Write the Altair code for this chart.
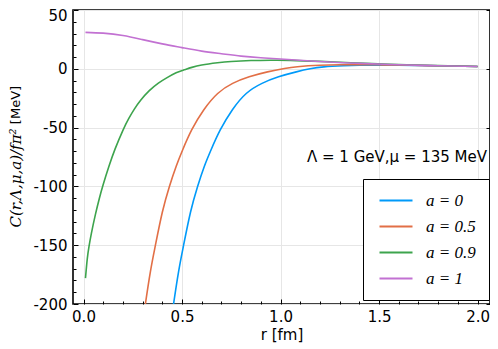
import altair as alt
import pandas as pd

# ---------------- data ----------------
series_names = ["a = 0", "a = 0.5", "a = 0.9", "a = 1"]
series_colors = ["#009AF9", "#E26F46", "#3DA44D", "#C271D2"]

r_a0 = [0.433, 0.457, 0.483, 0.508, 0.543, 0.579, 0.613, 0.647, 0.694, 0.755, 0.826,
        0.906, 0.99, 1.08, 1.15, 1.22, 1.32, 1.4, 1.5, 1.6, 1.8, 2.0]
c_a0 = [-228, -200, -172, -150, -122, -100, -83, -69, -52, -35, -21,
        -12.4, -6.8, -2.6, 0.0, 1.6, 2.6, 3.0, 3.1, 3.0, 2.6, 2.0]

r_a05 = [0.29, 0.314, 0.34, 0.365, 0.40, 0.436, 0.47, 0.503, 0.549, 0.61, 0.681,
         0.757, 0.841, 0.934, 1.02, 1.086, 1.2, 1.3, 1.4, 1.5, 1.6, 1.8, 2.0]
c_a05 = [-228, -200, -172, -150, -122, -100, -83, -69, -52, -35, -21,
         -12.4, -6.8, -2.6, 0.3, 1.8, 3.0, 3.4, 3.5, 3.4, 3.2, 2.6, 2.0]

r_a09 = [0.01, 0.019, 0.028, 0.04, 0.06, 0.08, 0.1, 0.13, 0.16, 0.2, 0.23, 0.258,
         0.29, 0.334, 0.38, 0.42, 0.47, 0.51, 0.55, 0.6, 0.68, 0.75, 0.85, 0.95,
         1.05, 1.2, 1.4, 1.6, 1.8, 2.0]
c_a09 = [-178, -161.8, -151, -139.9, -124.2, -110.5, -98.4, -82.5, -68.3, -52.3, -42.2, -34.3,
         -26.8, -18.6, -12.2, -7.9, -3.4, -0.9, 1.2, 3.2, 5.1, 6.2, 7.0, 7.3,
         7.2, 6.3, 4.8, 3.6, 2.7, 2.0]

r_a1 = [0.01, 0.1, 0.2, 0.3, 0.4, 0.5, 0.6, 0.7, 0.8, 0.9, 1.0, 1.2, 1.4, 1.6, 1.8, 2.0]
c_a1 = [31, 30.3, 28.3, 24.8, 21.2, 18, 15, 12.8, 10.8, 9.4, 8.3, 6.2, 4.6, 3.4, 2.6, 2.0]

x_ticks = [round(i * 0.1, 1) for i in range(21)]
y_ticks = list(range(-200, 51, 10))
x_major = [0.0, 0.5, 1.0, 1.5, 2.0]
y_major = [-200, -150, -100, -50, 0, 50]

x_title = "r [fm]"
y_title_math = "C(r,Λ,μ,a)/fπ²"
y_title_unit = "[MeV]"
annotation = "Λ = 1 GeV,μ = 135 MeV"

# ---------------- table ----------------
rows = []
for name, rs, cs in zip(series_names, [r_a0, r_a05, r_a09, r_a1], [c_a0, c_a05, c_a09, c_a1]):
    for r, c in zip(rs, cs):
        rows.append({"series": name, "r": r, "C": c})
df = pd.DataFrame(rows)

xscale = alt.Scale(domain=[-0.0533, 2.063], nice=False, zero=False)
yscale = alt.Scale(domain=[-200, 50], nice=False, zero=False)

maj_x = "abs(datum.value*2 - round(datum.value*2)) < 1e-6"
maj_y = "abs(datum.value % 50) < 1e-6"

# invisible layer carrying grid (major only) and mirrored ticks on the right
frame = alt.Chart(df).mark_line(opacity=0).encode(
    x=alt.X("r:Q", scale=xscale,
            axis=alt.Axis(orient="top", values=x_major, grid=True, ticks=False,
                          labels=False, domain=False, title=None)),
    y=alt.Y("C:Q", scale=yscale,
            axis=alt.Axis(orient="right", values=y_major, grid=True, ticks=True,
                          tickSize=alt.ExprRef(expr="-4"), labels=False,
                          domain=False, title=None)),
    detail="series:N",
)

lines = alt.Chart(df).mark_line(clip=True, strokeWidth=1.6, interpolate="natural").encode(
    x=alt.X("r:Q", scale=xscale,
            axis=alt.Axis(orient="bottom", values=x_ticks, grid=False, domain=False,
                          labelExpr=f"({maj_x}) ? format(datum.value, '.1f') : ''",
                          tickSize=alt.ExprRef(expr=f"({maj_x}) ? -5 : -3"),
                          labelPadding=10, title=x_title, titlePadding=1)),
    y=alt.Y("C:Q", scale=yscale,
            axis=alt.Axis(orient="left", values=y_ticks, grid=False, domain=False,
                          labelExpr=f"({maj_y}) ? ('' + datum.value) : ''",
                          tickSize=alt.ExprRef(expr=f"({maj_y}) ? -5 : -3"),
                          labelOffset=alt.ExprRef(expr="datum.value == 50 ? 5 : 0"),
                          labelPadding=11, title=None)),
    color=alt.Color("series:N",
                    scale=alt.Scale(domain=series_names, range=series_colors),
                    legend=alt.Legend(title=None, orient="none", legendX=290, legendY=169,
                                      symbolType="M-1,0H5.6", symbolSize=100,
                                      symbolStrokeWidth=2, labelFont="Liberation Serif",
                                      labelFontStyle="italic", labelFontSize=17,
                                      labelColor="black", labelOffset=33, rowPadding=8,
                                      padding=13, strokeColor="black", fillColor="white")),
)

ann = alt.Chart(pd.DataFrame({"t": [annotation]})).mark_text(
    font="DejaVu Sans", fontSize=15, align="center", baseline="middle", color="black"
).encode(x=alt.value(324), y=alt.value(147), text="t:N")

yt1 = alt.Chart(pd.DataFrame({"t": [y_title_math]})).mark_text(
    font="DejaVu Serif", fontStyle="italic", fontSize=15, angle=270,
    align="center", baseline="middle", color="black"
).encode(x=alt.value(-57), y=alt.value(168), text="t:N")

yt2 = alt.Chart(pd.DataFrame({"t": [y_title_unit]})).mark_text(
    font="DejaVu Sans", fontSize=13, angle=270,
    align="center", baseline="middle", color="black"
).encode(x=alt.value(-57), y=alt.value(95), text="t:N")

chart = alt.layer(frame, lines, ann, yt1, yt2).resolve_scale(
    x="shared", y="shared"
).resolve_axis(
    x="independent", y="independent"
).properties(
    width=417, height=294,
    autosize=alt.AutoSizeParams(type="none"),
    padding={"left": 65, "top": 2, "right": 0, "bottom": 45},
    background="white",
).configure_view(
    stroke="black", strokeWidth=1.6
).configure_axis(
    labelFont="DejaVu Sans", labelFontSize=15, labelColor="black",
    tickColor="black", tickWidth=1, gridColor="#e6e6e6", gridWidth=1,
    titleFont="DejaVu Sans", titleFontSize=15, titleFontWeight="normal",
    titleColor="black", labelFlush=False, labelOverlap=False,
)

chart.save("out.html", embed_options={"renderer": "svg", "actions": False})
